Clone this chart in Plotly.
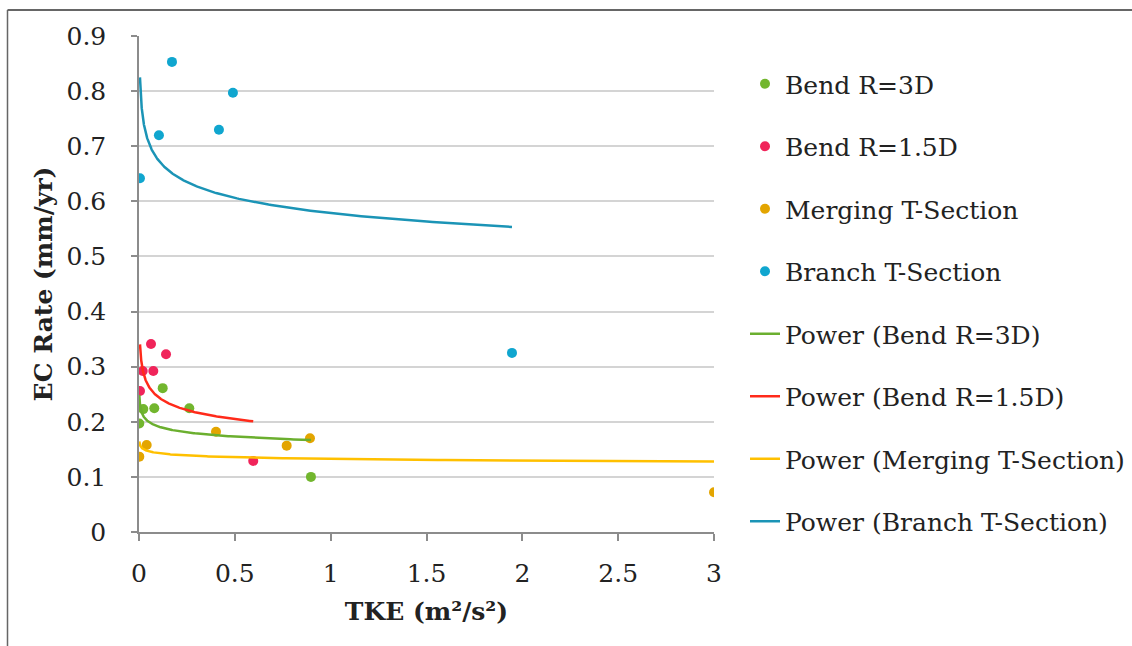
import numpy as np
import plotly.graph_objects as go

# ---- data ----
bend3d_x = [0.0016, 0.0224, 0.0798, 0.1236, 0.2624, 0.897]
bend3d_y = [0.197, 0.223, 0.2245, 0.261, 0.2245, 0.100]

bend15d_x = [0.0052, 0.0193, 0.0626, 0.0746, 0.141, 0.596]
bend15d_y = [0.256, 0.292, 0.341, 0.292, 0.3225, 0.129]

merging_x = [0.0016, 0.040, 0.4017, 0.7705, 0.892, 3.0]
merging_y = [0.1367, 0.158, 0.182, 0.1567, 0.170, 0.072]

branch_x = [0.005, 0.104, 0.172, 0.417, 0.49, 1.946]
branch_y = [0.642, 0.720, 0.853, 0.730, 0.797, 0.325]

series_names = ["Bend R=3D", "Bend R=1.5D", "Merging T-Section", "Branch T-Section"]
point_colors = ["#72B62E", "#F0245A", "#E3A500", "#10A6CF"]
line_colors = ["#6BAF2F", "#FF2A1A", "#FFC000", "#1B94B6"]

y_ticks = [0, 0.1, 0.2, 0.3, 0.4, 0.5, 0.6, 0.7, 0.8, 0.9]
x_ticks = [0, 0.5, 1, 1.5, 2, 2.5, 3]

FONT = "DejaVu Serif"
FS = 25

datasets = [(bend3d_x, bend3d_y), (bend15d_x, bend15d_y),
            (merging_x, merging_y), (branch_x, branch_y)]

fig = go.Figure()

for i, (xs, ys) in enumerate(datasets):
    fig.add_trace(go.Scatter(
        x=xs, y=ys, mode="markers", name=series_names[i],
        marker=dict(color=point_colors[i], size=10),
        legendgroup=f"g{i}", legendrank=i + 1,
    ))

# power trendlines (least squares in log-log space, like a spreadsheet power fit)
for i, (xs, ys) in enumerate(datasets):
    lx = np.log(np.array(xs))
    ly = np.log(np.array(ys))
    b, ln_a = np.polyfit(lx, ly, 1)
    a = np.exp(ln_a)
    tx = np.geomspace(min(xs), max(xs), 300)
    ty = a * tx ** b
    fig.add_trace(go.Scatter(
        x=tx, y=ty, mode="lines", name=f"Power ({series_names[i]})",
        line=dict(color=line_colors[i], width=2.5),
        legendgroup=f"l{i}", legendrank=i + 5, hoverinfo="skip",
    ))

L, R, T, B = 139, 714, 36, 532
W, H = 1132, 646
pw, ph = R - L, B - T

fig.update_layout(
    width=W, height=H,
    margin=dict(l=L, r=W - R, t=T, b=H - B, pad=0, autoexpand=False),
    paper_bgcolor="white", plot_bgcolor="white",
    font=dict(family=FONT, size=FS, color="#222222"),
    showlegend=True,
    legend=dict(
        xref="container", yref="container",
        x=745 / W, xanchor="left",
        y=1 - 61 / H, yanchor="top",
        maxheight=620,
        font=dict(family=FONT, size=FS, color="#222222"),
        tracegroupgap=27,
        bgcolor="rgba(0,0,0,0)",
    ),
    xaxis=dict(
        range=[0, 3], tickvals=x_ticks, ticktext=[str(v) for v in x_ticks],
        showgrid=False, zeroline=False,
        showline=True, linecolor="#8C8C8C", linewidth=1.5,
        ticks="outside", ticklen=7, tickcolor="#8C8C8C", tickwidth=1.5,
        ticklabelstandoff=11,
        title=dict(text="<b>TKE (m²/s²)</b>", font=dict(family=FONT, size=FS), standoff=16),
    ),
    yaxis=dict(
        range=[0, 0.9], tickvals=y_ticks, ticktext=[("%g" % v) for v in y_ticks],
        showgrid=True, gridcolor="#D4D4D4", gridwidth=2,
        zeroline=False,
        showline=True, linecolor="#8C8C8C", linewidth=1.5,
        ticks="outside", ticklen=6, tickcolor="#8C8C8C", tickwidth=1.5,
        ticklabelstandoff=20,
        title=dict(text="<b>EC Rate (mm/yr)</b>", font=dict(family=FONT, size=FS), standoff=7),
    ),
    shapes=[
        dict(type="line", xref="paper", yref="paper",
             x0=(7.5 - L) / pw, x1=(W + 5 - L) / pw,
             y0=(B - 10) / ph, y1=(B - 10) / ph,
             line=dict(color="#333333", width=1.5)),
        dict(type="line", xref="paper", yref="paper",
             x0=(7.5 - L) / pw, x1=(7.5 - L) / pw,
             y0=(B - 10) / ph, y1=(B - H - 5) / ph,
             line=dict(color="#666666", width=1.5)),
    ],
)

fig.write_html("out.html")
